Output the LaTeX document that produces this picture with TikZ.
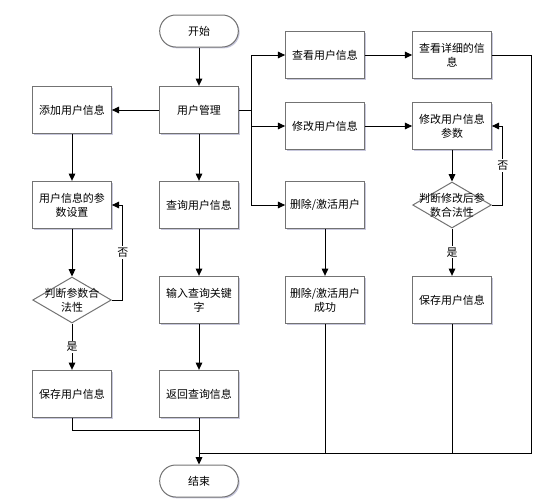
\documentclass[tikz,border=0pt]{standalone}
\usepackage{fontspec}
\newfontfamily\cjk{Noto Sans CJK SC}
\usetikzlibrary{shapes.geometric,shadows,arrows.meta}
\begin{document}
\begin{tikzpicture}[x=0.75pt,y=-0.75pt,line width=0.75pt,
    >={Triangle[length=5.5pt,width=5pt]},
    every node/.style={font=\cjk\fontsize{8.2}{10.5}\selectfont},
    main node/.style={rectangle,draw=black!55,fill=white,align=center,
        minimum width=59pt,minimum height=35.5pt,inner sep=1pt,
        drop shadow={shadow xshift=1pt,shadow yshift=-1pt,fill=blue!25!gray,opacity=0.35}},
    end node/.style={main node,rounded corners=12pt,minimum height=24pt},
    check node/.style={diamond,draw=black!55,fill=white,inner sep=0pt,
        minimum width=59pt,minimum height=34.5pt},
    mark node/.style={fill=white,inner sep=1pt}]
        \useasboundingbox (0,0) rectangle (538,500);

        \node[end node] at (199, 31) (start) {开始};
        \node[main node] at (199, 110) (manage) {用户管理};
        \node[main node] at (72, 110) (add) {添加用户信息};
        \node[main node] at (72, 205) (addset) {用户信息的参\\数设置};
        \node[check node, label=center:{\parbox{5em}{\centering 判断参数合\\法性}}] at (72, 300) (addcheck) {};
        \node[main node] at (72, 394) (addsave) {保存用户信息};
        \node[main node] at (199, 205) (query) {查询用户信息};
        \node[main node] at (199, 300) (keyword) {输入查询关键\\字};
        \node[main node] at (199, 394) (result) {返回查询信息};
        \node[main node] at (325, 55) (view) {查看用户信息};
        \node[main node] at (452, 55) (viewdetail) {查看详细的信\\息};
        \node[main node] at (325, 126) (modify) {修改用户信息};
        \node[main node] at (452, 126) (modifyset) {修改用户信息\\参数};
        \node[check node, label=center:{\parbox{6em}{\centering 判断修改后参\\数合法性}}] at (452, 205) (modifycheck) {};
        \node[main node] at (452, 300) (modifysave) {保存用户信息};
        \node[main node] at (325, 205) (del) {删除/激活用户};
        \node[main node] at (325, 300) (delok) {删除/激活用户\\成功};
        \node[end node] at (199, 481) (finish) {结束};

        \coordinate (bus) at (251, 110);
        \coordinate (corner) at (531, 453);
        \coordinate (join) at (199, 430);

        \path[->]
            (start) edge (manage)
            (manage) edge (add)
            (manage) edge (query)
            (add) edge (addset)
            (addset) edge (addcheck)
            (addcheck) edge node[mark node] {是} (addsave)
            (query) edge (keyword)
            (keyword) edge (result)
            (result) edge (finish)
            (view) edge (viewdetail)
            (modify) edge (modifyset)
            (modifyset) edge (modifycheck)
            (modifycheck) edge node[mark node] {是} (modifysave)
            (del) edge (delok)
            ;

        \draw (manage) -- (bus);
        \draw[->] (bus) |- (view);
        \draw[->] (bus) |- (modify);
        \draw[->] (bus) |- (del);
        \draw[->] (addcheck.east) -- ++(11, 0) |- (addset.east) node[mark node, pos=0.25] {否};
        \draw[->] (modifycheck.east) -- ++(11, 0) |- (modifyset.east) node[mark node, pos=0.25] {否};
        \draw (viewdetail.east) -| (corner) -- (finish |- corner);
        \draw (delok) -- (delok |- corner);
        \draw (modifysave) -- (modifysave |- corner);
        \draw (addsave) |- (join);
    \end{tikzpicture}
\end{document}
